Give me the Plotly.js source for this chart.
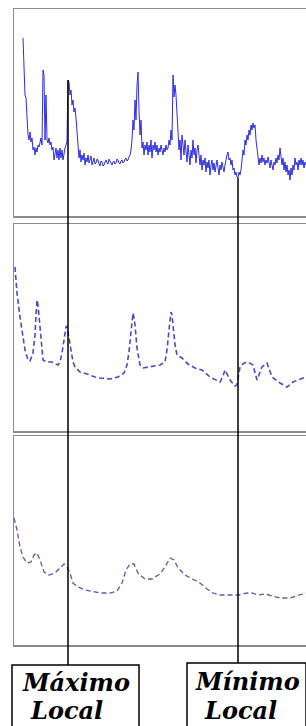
<!DOCTYPE html>
<html><head><meta charset="utf-8">
<script src="https://cdn.plot.ly/plotly-3.0.1.min.js"></script>
<style>html,body{margin:0;padding:0;overflow:hidden;background:#fff}#chart{width:340px;height:726px}</style>
</head><body><div id="chart"></div>
<script>
// Raw signal (top panel), uniform samples starting at t = 9
const rawStart = 9;
const rawSignal = [
178,136,121,118,91,81,76,84,74,78,66,69,61,68,64,71,69,76,78,71,
146,141,76,121,76,73,78,71,74,66,69,56,64,68,58,66,56,68,58,66,56,64,68,71,74,
136,134,121,126,111,116,104,108,98,81,66,58,66,54,61,56,63,51,58,54,61,53,
56,60,51,55,58,52,53,57,56,52,50,55,54,50,51,54,56,53,52,57,55,52,51,54,55,52,53,57,56,53,52,55,56,53,54,57,58,55,56,59,61,
66,76,96,86,116,96,131,144,106,81,96,68,
74,61,71,66,74,61,71,64,76,58,71,66,74,64,71,61,68,64,71,66,61,68,64,71,66,68,76,71,86,76,
141,119,131,121,101,86,66,76,56,81,71,61,76,66,54,71,61,51,66,58,76,61,68,53,66,71,61,51,61,
46,56,51,58,44,54,48,56,41,51,56,46,53,44,51,56,48,41,51,46,54,48,44,51,58,61,64,56,58,51,56,46,48,41,44,39,38,44,41,46,
56,66,61,76,71,81,76,86,81,91,86,93,88,91,76,66,56,51,58,53,61,54,58,51,56,53,59,54,48,56,51,46,54,51,58,53,61,56,68,56,51,58,46,54,44,51,41,46,36,48,41,51,46,58,51,54,46,56,51,58,51,56,48,54,51
];
// Medium-smoothed signal (middle panel)
const mediumT = [1,3,6,9,11,14,16,19,21,22,23,24,26,28,29,33,38,44,46,48,50,52,53,55,57,59,61,66,73,81,86,96,104,110,113,115,117,119,120,121,123,126,129,136,146,151,153,155,157,158,159,161,163,168,174,181,188,196,206,209,211,216,221,223,226,230,234,239,243,248,253,258,266,273,279,289,292];
const mediumSignal = [164,138,114,91,81,71,70,78,96,116,131,126,101,81,71,69,69,66,69,78,94,104,105,94,79,69,64,59,57,54,53,52,54,58,66,79,99,118,113,106,83,66,63,64,66,69,81,101,119,116,106,86,76,73,67,63,61,54,49,55,61,51,45,46,64,68,69,66,51,64,68,54,48,44,49,53,53];
// Strongly smoothed signal (bottom panel)
const smoothT = [0,3,6,9,13,17,20,23,26,30,35,41,46,50,53,56,59,64,71,79,86,96,103,108,112,116,120,124,131,138,146,151,156,160,164,171,179,186,193,199,206,216,224,229,233,238,244,251,258,266,276,286,292];
const smoothSignal = [127,115,98,88,82,83,90,92,85,73,70,72,77,81,78,72,62,58,55,53,52,52,54,62,75,81,81,72,66,66,71,78,87,85,77,70,66,62,56,52,50,50,50,51,52,52,50,51,49,47,47,50,52];
// Marked extrema (sample positions in the top signal)
const maxT = 54, minT = 224;
const labelMax = ['Máximo', 'Local'];
const labelMin = ['Mínimo', 'Local'];

const W = 340, H = 726;
const px = v => v / W;
const py = v => 1 - v / H;
const panels = [{top: 9, bottom: 216, span: 207}, {top: 224, bottom: 431, span: 207}, {top: 436, bottom: 645, span: 209}];
const rawT = rawSignal.map((_, i) => rawStart + i);

const axisStyle = {showgrid: false, zeroline: false, showticklabels: false, ticks: '', showline: true, mirror: true, linecolor: '#8c8c8c', linewidth: 1.5, fixedrange: true};

const traces = [
  {x: rawT, y: rawSignal, xaxis: 'x', yaxis: 'y', mode: 'lines', line: {color: '#2e2ee0', width: 1}, hoverinfo: 'skip'},
  {x: mediumT, y: mediumSignal, xaxis: 'x2', yaxis: 'y2', mode: 'lines', line: {color: '#4a4ac8', width: 1.6, dash: '5px,3px'}, hoverinfo: 'skip'},
  {x: smoothT, y: smoothSignal, xaxis: 'x3', yaxis: 'y3', mode: 'lines', line: {color: '#5a5ab0', width: 1.3, dash: '5px,3px'}, hoverinfo: 'skip'}
];

const layout = {width: W, height: H, margin: {l: 0, r: 0, t: 0, b: 0}, showlegend: false, paper_bgcolor: '#fff', plot_bgcolor: '#fff', shapes: [], annotations: []};
const xr = [0, W - 14];
['', '2', '3'].forEach((s, i) => {
  const p = panels[i];
  layout['xaxis' + s] = Object.assign({}, axisStyle, {domain: [px(14), 1], range: xr, anchor: 'y' + s});
  layout['yaxis' + s] = Object.assign({}, axisStyle, {domain: [py(p.bottom), py(p.top)], range: [0, p.span], anchor: 'x' + s});
});

function topPaper(v) {
  const p = panels[0];
  return py(p.bottom) + v / p.span * (py(p.top) - py(p.bottom));
}
const vMax = rawSignal[maxT - rawStart], vMin = rawSignal[minT - rawStart];
layout.shapes.push({type: 'line', xref: 'x', yref: 'paper', x0: maxT, x1: maxT, y0: topPaper(vMax), y1: py(665), line: {color: '#000', width: 1.5}});
layout.shapes.push({type: 'line', xref: 'x', yref: 'paper', x0: minT, x1: minT, y0: topPaper(vMin), y1: py(663), line: {color: '#000', width: 1.5}});
layout.shapes.push({type: 'rect', xref: 'paper', yref: 'paper', x0: px(12), x1: px(139), y0: py(665), y1: py(760), line: {color: '#000', width: 1.5}});
layout.shapes.push({type: 'rect', xref: 'paper', yref: 'paper', x0: px(187), x1: px(306), y0: py(663), y1: py(760), line: {color: '#000', width: 1.5}});

const lf = {family: 'DejaVu Serif', size: 24, color: '#000', weight: 'bold', style: 'italic'};
function ann(text, cx, cy) {
  layout.annotations.push({text: text, xref: 'paper', yref: 'paper', x: px(cx), y: py(cy), xanchor: 'center', yanchor: 'middle', showarrow: false, font: lf});
}
ann(labelMax[0], 76, 682);
ann(labelMax[1], 66, 710);
ann(labelMin[0], 247, 681);
ann(labelMin[1], 240, 710);

Plotly.newPlot('chart', traces, layout, {staticPlot: true, displayModeBar: false});
</script></body></html>
